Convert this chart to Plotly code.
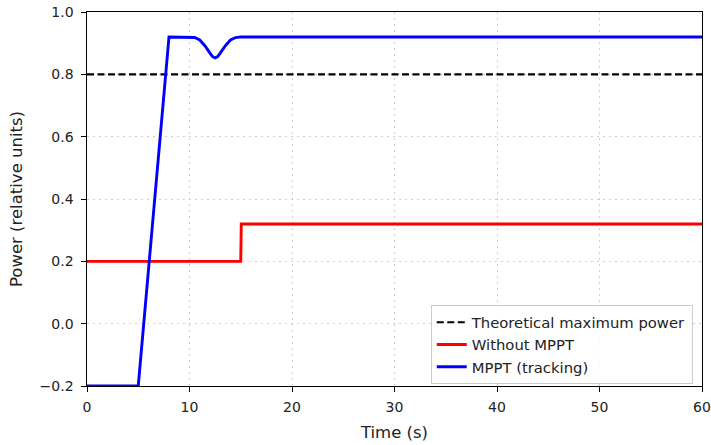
import plotly.graph_objects as go

# Data
theory_t = [0, 60]
theory_p = [0.8, 0.8]

without_t = [0, 15, 15.05, 60]
without_p = [0.2, 0.2, 0.32, 0.32]

mppt_t = [0, 5, 8, 10, 10.5, 11, 11.5, 12, 12.25, 12.5, 12.75, 13, 13.5, 14, 14.5, 15, 60]
mppt_p = [-0.2, -0.2, 0.92, 0.92, 0.918, 0.91, 0.892, 0.868, 0.857, 0.853, 0.857, 0.868, 0.892, 0.91, 0.918, 0.92, 0.92]

x_ticks = [0, 10, 20, 30, 40, 50, 60]
y_ticks = [-0.2, 0.0, 0.2, 0.4, 0.6, 0.8, 1.0]
y_tick_labels = ["\u22120.2", "0.0", "0.2", "0.4", "0.6", "0.8", "1.0"]

FONT = "DejaVu Sans, sans-serif"

fig = go.Figure()
fig.add_trace(go.Scatter(x=theory_t, y=theory_p, mode="lines",
                         name="Theoretical maximum power",
                         line=dict(color="black", width=2.1, dash="7px,3.5px")))
fig.add_trace(go.Scatter(x=without_t, y=without_p, mode="lines",
                         name="Without MPPT",
                         line=dict(color="red", width=2.9)))
fig.add_trace(go.Scatter(x=mppt_t, y=mppt_p, mode="lines",
                         name="MPPT (tracking)",
                         line=dict(color="blue", width=2.9)))

axis_common = dict(
    showline=True, mirror=True, linecolor="black", linewidth=1.2,
    ticks="outside", ticklen=4.5, tickwidth=1.2, tickcolor="black",
    showgrid=True, gridcolor="#cfcfcf", griddash="1.6px,4.4px", gridwidth=1.4,
    zeroline=False, automargin=False,
    tickfont=dict(family=FONT, size=14, color="#222"),
)

fig.update_layout(
    width=711, height=445,
    margin=dict(l=87, r=9, t=12, b=59),
    plot_bgcolor="white", paper_bgcolor="white",
    font=dict(family=FONT, size=14, color="#222"),
    xaxis=dict(range=[0, 60], tickvals=x_ticks, ticklabelstandoff=4,
               title=dict(text="Time (s)", font=dict(family=FONT, size=16.5), standoff=12),
               **axis_common),
    yaxis=dict(range=[-0.2, 1.0], tickvals=y_ticks, ticktext=y_tick_labels, ticklabelstandoff=5,
               title=dict(text="Power (relative units)", font=dict(family=FONT, size=16.5), standoff=12),
               **axis_common),
    legend=dict(x=0.985, y=0.005, xanchor="right", yanchor="bottom",
                bgcolor="rgba(255,255,255,0.85)", bordercolor="#cccccc", borderwidth=1,
                font=dict(family=FONT, size=14.8, color="#222"),
                tracegroupgap=0, itemwidth=30),
    showlegend=True,
)

# remove the default page margin so the figure fills the window exactly
fig.write_html("out.html", config={"displayModeBar": False},
               post_script="document.body.style.margin='0';")
